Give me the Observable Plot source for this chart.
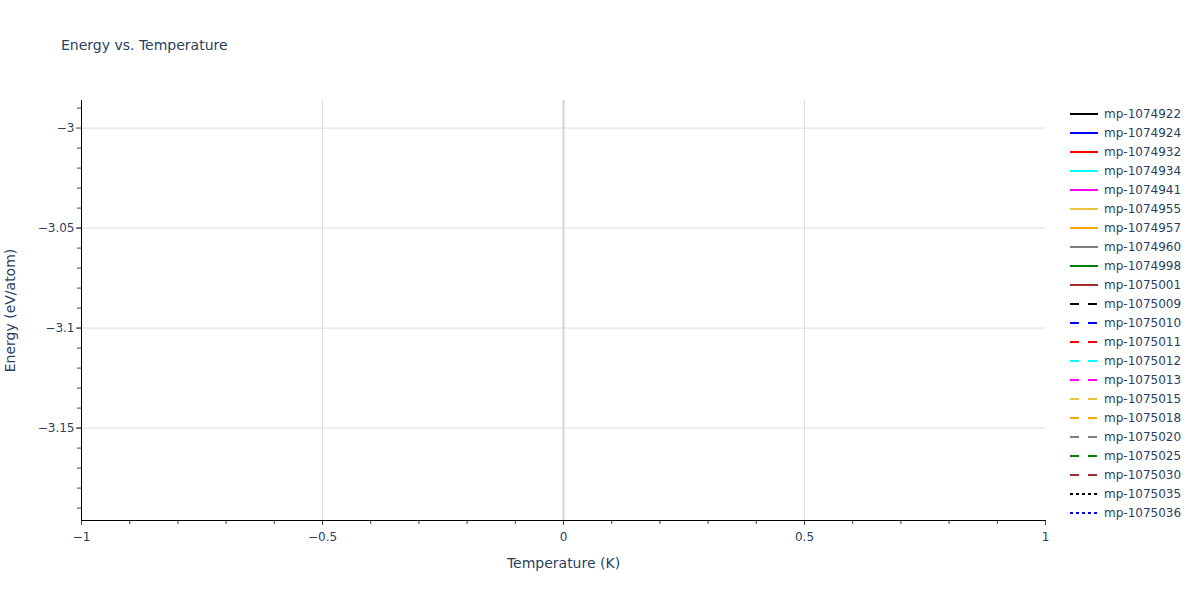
<!DOCTYPE html>
<html><head><meta charset="utf-8">
<script src="https://cdn.jsdelivr.net/npm/d3@7"></script>
<script src="https://cdn.jsdelivr.net/npm/@observablehq/plot@0.6"></script>
<style>
body{margin:0;background:#fff;font-family:"DejaVu Sans",sans-serif;}
#wrap{position:relative;width:1200px;height:600px;}
#title{position:absolute;left:61px;top:37px;font-size:14px;color:#2a3f5f;white-space:nowrap;}
#legend{position:absolute;left:1066px;top:101px;}
</style></head><body>
<div id="wrap"><div id="chart"></div><div id="title">Energy vs. Temperature</div><svg id="legend" width="134" height="430"></svg></div>
<script>
// ---- data ----
const seriesNames = ["mp-1074922","mp-1074924","mp-1074932","mp-1074934","mp-1074941","mp-1074955","mp-1074957","mp-1074960","mp-1074998","mp-1075001","mp-1075009","mp-1075010","mp-1075011","mp-1075012","mp-1075013","mp-1075015","mp-1075018","mp-1075020","mp-1075025","mp-1075030","mp-1075035","mp-1075036"];
const seriesColors = ["black","blue","red","cyan","magenta","#ecc440","orange","grey","green","brown","black","blue","red","cyan","magenta","#ecc440","orange","grey","green","brown","black","blue"];
const seriesDash = ["solid","solid","solid","solid","solid","solid","solid","solid","solid","solid","dash","dash","dash","dash","dash","dash","dash","dash","dash","dash","dot","dot"];
// every series is empty in the reference (no points drawn)
const seriesTemperature = seriesNames.map(() => []);
const seriesEnergy = seriesNames.map(() => []);
const xTicks = [-1, -0.5, 0, 0.5, 1];
const yTicks = [-3, -3.05, -3.1, -3.15];
const xDomain = [-1, 1];
const yDomain = [-3.1962, -2.9862];
const title = "Energy vs. Temperature";
const xLabel = "Temperature (K)";
const yLabel = "Energy (eV/atom)";

const dashArr = {solid: null, dash: "9,9", dot: "3,3"};
const fmt = d => (d < 0 ? "\u2212" : "") + String(Math.abs(d));
const xMinor = d3.range(-10, 11).map(i => i / 10);
const yMinor = d3.range(-19, 0).map(i => -3 + i / 100).filter(v => v >= yDomain[0]);
yMinor.push(-2.99);

const lineMarks = seriesNames.map((name, i) => {
  const rows = seriesTemperature[i].map((t, j) => ({t, e: seriesEnergy[i][j]}));
  return Plot.line(rows, {x: "t", y: "e", stroke: seriesColors[i], strokeWidth: 2, strokeDasharray: dashArr[seriesDash[i]]});
});

const chart = Plot.plot({
  width: 1200, height: 600,
  marginLeft: 81, marginRight: 155, marginTop: 100, marginBottom: 80,
  style: {fontFamily: "'DejaVu Sans', sans-serif", fontSize: "12px", color: "#2a3f5f", background: "#fff"},
  x: {domain: xDomain, label: null},
  y: {domain: yDomain, label: null},
  marks: [
    Plot.gridX(xTicks.filter(d => d !== 0 && d !== -1 && d !== 1), {stroke: "#dedede", strokeOpacity: 1}),
    Plot.gridY(yTicks, {stroke: "#dedede", strokeOpacity: 1}),
    Plot.ruleX([0], {stroke: "#d4d4d4", strokeWidth: 2}),
    ...lineMarks,
    Plot.axisX(xMinor, {tickSize: 4, text: null, stroke: "#444", label: null}),
    Plot.axisX(xTicks, {tickSize: 5, tickPadding: 7, tickFormat: fmt, stroke: "#444", fill: "#2a3f5f", label: null}),
    Plot.axisY(yMinor, {tickSize: 4, text: null, stroke: "#444", label: null}),
    Plot.axisY(yTicks, {tickSize: 5, tickPadding: 2, tickFormat: fmt, stroke: "#444", fill: "#2a3f5f", label: null}),
    Plot.frame({anchor: "bottom", stroke: "black"}),
    Plot.frame({anchor: "left", stroke: "black"}),
    Plot.text([xLabel], {frameAnchor: "bottom", dy: 47, fontSize: 14, fill: "#2a3f5f"}),
    Plot.text([yLabel], {frameAnchor: "left", dx: -71, rotate: -90, textAnchor: "middle", fontSize: 14, fill: "#2a3f5f"})
  ]
});
document.getElementById("chart").appendChild(chart);
document.getElementById("title").textContent = title;

// legend
const lg = d3.select("#legend");
seriesNames.forEach((name, i) => {
  const y = 13 + 19 * i;
  lg.append("line").attr("x1", 4).attr("x2", 32).attr("y1", y).attr("y2", y)
    .attr("stroke", seriesColors[i]).attr("stroke-width", 2)
    .attr("stroke-dasharray", dashArr[seriesDash[i]]);
  lg.append("text").attr("x", 38).attr("y", y).attr("dy", "0.35em")
    .attr("font-family", "'DejaVu Sans', sans-serif").attr("font-size", 12)
    .attr("fill", "#2a3f5f").text(name);
});
</script>
</body></html>
